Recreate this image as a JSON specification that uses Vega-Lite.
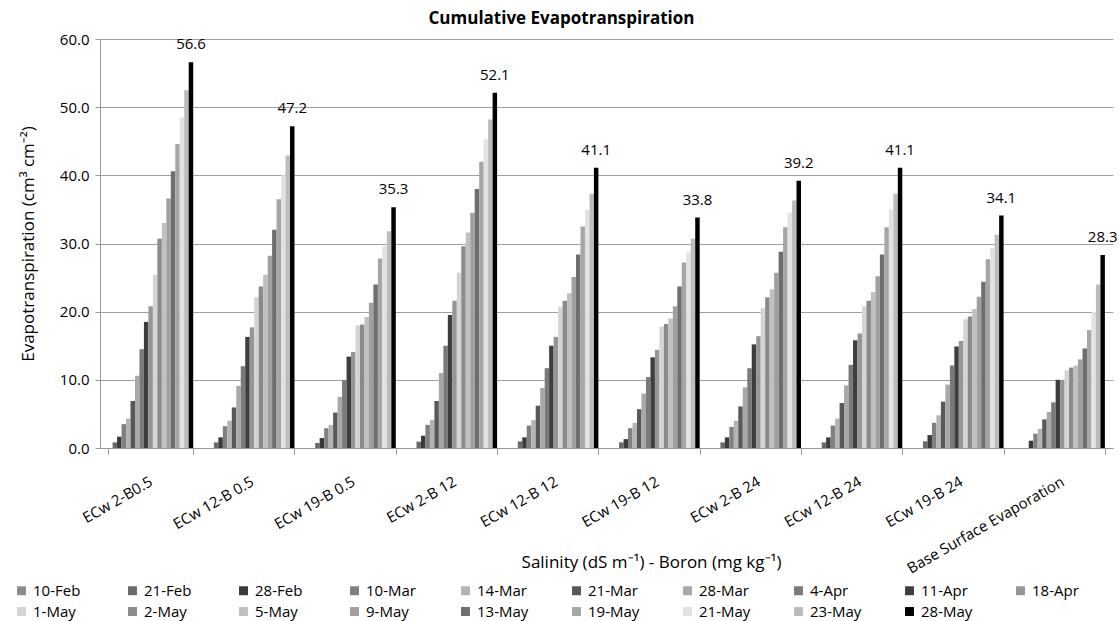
{
  "$schema": "https://vega.github.io/schema/vega-lite/v6.json",
  "autosize": {"type": "none"},
  "width": 1013,
  "height": 409,
  "padding": {"left": 100, "top": 39, "right": 7, "bottom": 173},
  "background": "white",
  "config": {
    "font": "Open Sans",
    "view": {"stroke": null},
    "axis": {"labelFont": "Open Sans", "titleFont": "Open Sans", "labelColor": "#000", "titleColor": "#000", "titleFontWeight": "normal"}
  },
  "title": {"text": "Cumulative Evapotranspiration", "fontSize": 17, "fontWeight": "bold", "font": "Open Sans", "anchor": "middle", "dx": -45, "offset": 4, "color": "#000"},
  "data": {"values": [
    {"group": "ECw 2-B0.5", "10-Feb": 0, "21-Feb": 0.83, "28-Feb": 1.66, "10-Mar": 3.5, "14-Mar": 4.3, "21-Mar": 6.9, "28-Mar": 10.6, "4-Apr": 14.5, "11-Apr": 18.5, "18-Apr": 20.8, "1-May": 25.4, "2-May": 30.7, "5-May": 33.0, "9-May": 36.6, "13-May": 40.6, "19-May": 44.6, "21-May": 48.5, "23-May": 52.5, "28-May": 56.6},
    {"group": "ECw 12-B 0.5", "10-Feb": 0, "21-Feb": 0.83, "28-Feb": 1.56, "10-Mar": 3.2, "14-Mar": 4.0, "21-Mar": 5.95, "28-Mar": 9.1, "4-Apr": 12.0, "11-Apr": 16.3, "18-Apr": 17.7, "1-May": 22.1, "2-May": 23.7, "5-May": 25.4, "9-May": 28.2, "13-May": 32.0, "19-May": 36.5, "21-May": 40.0, "23-May": 42.9, "28-May": 47.2},
    {"group": "ECw 19-B 0.5", "10-Feb": 0, "21-Feb": 0.73, "28-Feb": 1.46, "10-Mar": 2.9, "14-Mar": 3.4, "21-Mar": 5.2, "28-Mar": 7.5, "4-Apr": 9.95, "11-Apr": 13.4, "18-Apr": 14.1, "1-May": 18.0, "2-May": 18.1, "5-May": 19.2, "9-May": 21.3, "13-May": 24.0, "19-May": 27.8, "21-May": 29.6, "23-May": 31.8, "28-May": 35.3},
    {"group": "ECw 2-B 12", "10-Feb": 0, "21-Feb": 0.93, "28-Feb": 1.8, "10-Mar": 3.4, "14-Mar": 4.1, "21-Mar": 6.9, "28-Mar": 11.0, "4-Apr": 15.0, "11-Apr": 19.5, "18-Apr": 21.6, "1-May": 25.7, "2-May": 29.6, "5-May": 31.6, "9-May": 34.5, "13-May": 38.0, "19-May": 42.0, "21-May": 45.3, "23-May": 48.2, "28-May": 52.1},
    {"group": "ECw 12-B 12", "10-Feb": 0, "21-Feb": 0.98, "28-Feb": 1.56, "10-Mar": 3.3, "14-Mar": 4.1, "21-Mar": 6.2, "28-Mar": 8.8, "4-Apr": 11.7, "11-Apr": 15.0, "18-Apr": 16.3, "1-May": 20.7, "2-May": 21.6, "5-May": 22.7, "9-May": 25.1, "13-May": 28.4, "19-May": 32.5, "21-May": 34.9, "23-May": 37.3, "28-May": 41.1},
    {"group": "ECw 19-B 12", "10-Feb": 0, "21-Feb": 0.83, "28-Feb": 1.3, "10-Mar": 2.9, "14-Mar": 3.7, "21-Mar": 5.7, "28-Mar": 8.0, "4-Apr": 10.4, "11-Apr": 13.3, "18-Apr": 14.4, "1-May": 17.8, "2-May": 18.2, "5-May": 19.0, "9-May": 20.8, "13-May": 23.7, "19-May": 27.2, "21-May": 28.8, "23-May": 30.7, "28-May": 33.8},
    {"group": "ECw 2-B 24", "10-Feb": 0, "21-Feb": 0.83, "28-Feb": 1.56, "10-Mar": 3.1, "14-Mar": 4.0, "21-Mar": 6.1, "28-Mar": 8.9, "4-Apr": 11.7, "11-Apr": 15.2, "18-Apr": 16.4, "1-May": 20.5, "2-May": 22.1, "5-May": 23.3, "9-May": 25.7, "13-May": 28.8, "19-May": 32.4, "21-May": 34.5, "23-May": 36.3, "28-May": 39.2},
    {"group": "ECw 12-B 24", "10-Feb": 0, "21-Feb": 0.83, "28-Feb": 1.56, "10-Mar": 3.3, "14-Mar": 4.3, "21-Mar": 6.6, "28-Mar": 9.2, "4-Apr": 12.2, "11-Apr": 15.8, "18-Apr": 16.8, "1-May": 20.8, "2-May": 21.6, "5-May": 22.9, "9-May": 25.2, "13-May": 28.4, "19-May": 32.4, "21-May": 35.0, "23-May": 37.3, "28-May": 41.1},
    {"group": "ECw 19-B 24", "10-Feb": 0, "21-Feb": 0.98, "28-Feb": 1.9, "10-Mar": 3.7, "14-Mar": 4.8, "21-Mar": 6.8, "28-Mar": 9.3, "4-Apr": 12.1, "11-Apr": 14.9, "18-Apr": 15.7, "1-May": 18.9, "2-May": 19.3, "5-May": 20.4, "9-May": 22.2, "13-May": 24.4, "19-May": 27.7, "21-May": 29.3, "23-May": 31.3, "28-May": 34.1},
    {"group": "Base Surface Evaporation", "10-Feb": 0, "21-Feb": 0, "28-Feb": 1.07, "10-Mar": 2.1, "14-Mar": 2.8, "21-Mar": 4.2, "28-Mar": 5.3, "4-Apr": 6.7, "11-Apr": 10.0, "18-Apr": 10.0, "1-May": 11.4, "2-May": 11.8, "5-May": 12.1, "9-May": 13.0, "13-May": 14.6, "19-May": 17.3, "21-May": 20.0, "23-May": 24.0, "28-May": 28.3}
  ]},
  "transform": [
    {"fold": ["10-Feb", "21-Feb", "28-Feb", "10-Mar", "14-Mar", "21-Mar", "28-Mar", "4-Apr", "11-Apr", "18-Apr", "1-May", "2-May", "5-May", "9-May", "13-May", "19-May", "21-May", "23-May", "28-May"], "as": ["date", "value"]}
  ],
  "encoding": {
    "x": {
      "field": "group", "type": "nominal", "sort": null,
      "scale": {"paddingInner": 0.16, "paddingOuter": 0.08},
      "axis": {
        "title": "Salinity (dS m\u207b\u00b9) - Boron (mg kg\u207b\u00b9)",
        "titleFontSize": 17, "titleX": 551, "titleY": 119, "titleAnchor": "middle", "titleBaseline": "alphabetic",
        "labelAngle": -30, "labelAlign": "right", "labelBaseline": "middle", "labelFontSize": 15, "labelPadding": 26,
        "tickBand": "extent", "tickSize": 6, "tickColor": "#999", "domainColor": "#999", "labelLimit": 300
      }
    },
    "xOffset": {
      "field": "date", "type": "nominal",
      "sort": ["10-Feb", "21-Feb", "28-Feb", "10-Mar", "14-Mar", "21-Mar", "28-Mar", "4-Apr", "11-Apr", "18-Apr", "1-May", "2-May", "5-May", "9-May", "13-May", "19-May", "21-May", "23-May", "28-May"],
      "scale": {"paddingInner": 0, "paddingOuter": 0}
    },
    "y": {
      "field": "value", "type": "quantitative",
      "scale": {"domain": [0, 60], "nice": false},
      "axis": {
        "title": "Evapotranspiration (cm\u00b3 cm\u207b\u00b2)", "titleFontSize": 17, "titlePadding": 22,
        "format": ".1f", "values": [0, 10, 20, 30, 40, 50, 60], "labelFontSize": 15,
        "gridColor": "#a0a0a0", "gridWidth": 1, "domainColor": "#999", "tickColor": "#999", "tickSize": 5, "labelPadding": 6
      }
    }
  },
  "layer": [
    {
      "mark": {"type": "bar"},
      "encoding": {
        "color": {
          "field": "date", "type": "nominal",
          "scale": {
            "domain": ["10-Feb", "21-Feb", "28-Feb", "10-Mar", "14-Mar", "21-Mar", "28-Mar", "4-Apr", "11-Apr", "18-Apr", "1-May", "2-May", "5-May", "9-May", "13-May", "19-May", "21-May", "23-May", "28-May"],
            "range": ["#8c8c8c", "#6a6a6a", "#3a3a3a", "#808080", "#b4b4b4", "#585858", "#a8a8a8", "#7a7a7a", "#3e3e3e", "#969696", "#d4d4d4", "#8a8a8a", "#c0c0c0", "#a0a0a0", "#6e6e6e", "#a6a6a6", "#e2e2e2", "#bcbcbc", "#000000"]
          },
          "legend": {
            "title": null, "orient": "none", "legendX": -86, "legendY": 544,
            "direction": "horizontal", "columns": 10, "gridAlign": "all",
            "symbolType": "square", "symbolSize": 80, "symbolStrokeWidth": 0, "symbolOpacity": 1,
            "labelFontSize": 15, "labelFont": "Open Sans", "labelColor": "#000", "labelOffset": 4,
            "columnPadding": 40, "rowPadding": 5
          }
        }
      }
    },
    {
      "transform": [{"filter": "datum.date == '28-May'"}],
      "mark": {"type": "text", "dy": -18, "fontSize": 15, "font": "Open Sans", "color": "#000"},
      "encoding": {
        "text": {"field": "value", "type": "quantitative", "format": ".1f"}
      }
    }
  ]
}
